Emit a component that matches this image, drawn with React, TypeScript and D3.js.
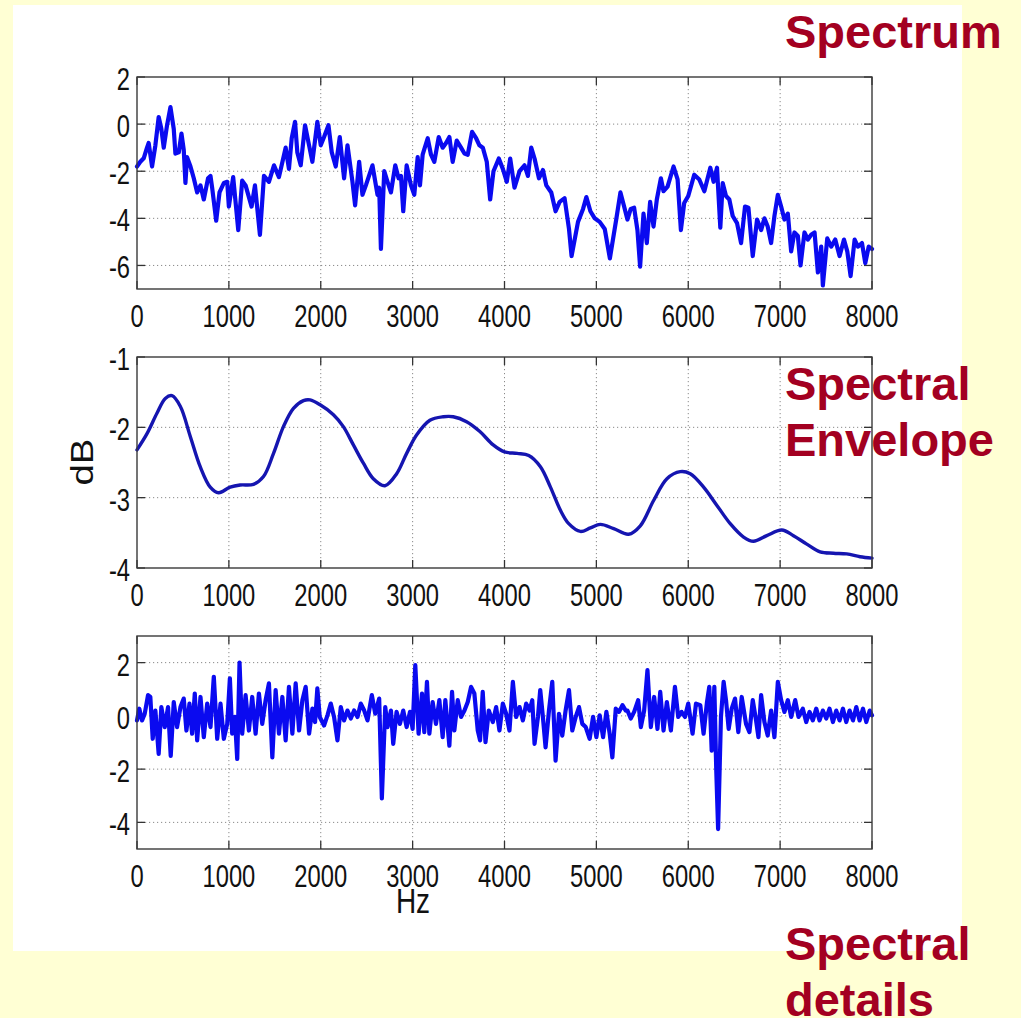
import * as d3 from 'd3';

// Spectrum (Hz, dB)
const spectrum: [number, number][] = [
  [0, -1.8], [36, -1.6], [73, -1.45], [109, -1.0], [127, -0.8], [164, -1.8], [200, -0.9], [236, 0.3],
  [265, -0.2], [291, -1.0], [327, -0.05], [364, 0.72], [400, -0.2], [418, -1.25], [455, -1.2], [484, -0.4],
  [509, -1.1], [527, -2.5], [545, -1.4], [582, -1.8], [618, -2.3], [655, -2.9], [691, -2.6], [727, -3.2],
  [773, -2.3], [800, -2.2], [818, -2.7], [862, -4.1], [898, -2.9], [945, -2.5], [982, -2.45], [1000, -3.5],
  [1047, -2.25], [1102, -4.5], [1145, -2.4], [1182, -2.6], [1247, -3.5], [1284, -2.6], [1338, -4.7], [1382, -2.2],
  [1436, -2.45], [1491, -1.75], [1545, -2.25], [1618, -1.0], [1654, -1.9], [1684, -0.6], [1720, 0.1], [1745, -1.2],
  [1782, -1.75], [1829, -0.05], [1873, -0.9], [1909, -1.6], [1963, 0.1], [2000, -0.9], [2036, -0.55], [2084, -0.05],
  [2120, -1.2], [2163, -1.8], [2207, -0.55], [2254, -2.3], [2291, -0.9], [2345, -2.45], [2374, -3.45], [2418, -1.6],
  [2454, -3.0], [2491, -2.6], [2563, -1.75], [2618, -3.0], [2636, -2.7], [2655, -5.3], [2691, -2.0], [2727, -2.45],
  [2764, -2.9], [2811, -1.75], [2847, -2.3], [2873, -2.2], [2898, -3.7], [2935, -1.75], [2982, -2.6], [3018, -3.0],
  [3055, -1.4], [3080, -2.6], [3109, -1.3], [3164, -0.6], [3200, -1.3], [3236, -1.6], [3284, -0.55], [3327, -1.0],
  [3364, -0.8], [3400, -0.55], [3436, -1.6], [3480, -0.7], [3527, -1.0], [3564, -1.25], [3600, -1.3], [3647, -0.33],
  [3691, -0.6], [3727, -0.9], [3764, -1.0], [3807, -1.6], [3844, -3.2], [3880, -2.0], [3938, -1.46], [3982, -1.9],
  [4025, -2.45], [4062, -1.46], [4109, -2.7], [4164, -2.0], [4218, -1.75], [4255, -2.2], [4291, -1.0], [4327, -1.46],
  [4375, -2.3], [4418, -1.95], [4455, -2.6], [4509, -2.9], [4556, -3.7], [4600, -3.3], [4654, -3.15], [4702, -4.45],
  [4730, -5.6], [4800, -4.15], [4855, -3.6], [4891, -3.1], [4935, -3.7], [4982, -4.0], [5036, -4.15], [5091, -4.45],
  [5147, -5.7], [5218, -4.0], [5262, -2.9], [5302, -3.5], [5338, -4.05], [5374, -3.6], [5411, -3.55], [5447, -4.5],
  [5476, -6.05], [5513, -3.8], [5549, -5.05], [5585, -3.3], [5622, -4.35], [5658, -3.2], [5702, -2.3], [5731, -2.85],
  [5775, -2.65], [5840, -1.8], [5884, -2.35], [5920, -4.5], [5956, -3.35], [6000, -3.05], [6065, -2.15], [6120, -2.35],
  [6175, -2.85], [6240, -1.85], [6276, -2.45], [6313, -1.85], [6349, -4.4], [6375, -2.5], [6411, -3.05], [6447, -3.2],
  [6484, -3.9], [6531, -4.2], [6575, -5.05], [6618, -3.5], [6655, -3.55], [6702, -5.6], [6749, -4.05], [6793, -4.5],
  [6829, -4.0], [6865, -4.35], [6902, -5.05], [6938, -3.9], [6975, -3.0], [7011, -3.5], [7047, -4.05], [7084, -3.8],
  [7120, -5.4], [7156, -4.6], [7193, -4.75], [7222, -6.0], [7265, -4.6], [7302, -4.9], [7338, -4.7], [7375, -4.6],
  [7411, -6.3], [7447, -5.2], [7465, -6.85], [7513, -4.85], [7556, -5.2], [7600, -4.9], [7647, -5.6], [7695, -4.9],
  [7731, -5.4], [7767, -6.45], [7811, -4.9], [7847, -5.2], [7891, -5.05], [7927, -5.9], [7964, -5.2], [8000, -5.3],
];

// Smooth spectral envelope (Hz, dB)
const envelope: [number, number][] = [
  [0, -2.32], [109, -2.09], [217, -1.8], [308, -1.59], [380, -1.55], [471, -1.7], [580, -2.13], [688, -2.56],
  [797, -2.85], [888, -2.93], [1014, -2.85], [1123, -2.82], [1268, -2.81], [1377, -2.7], [1486, -2.37], [1594, -1.99],
  [1703, -1.73], [1812, -1.62], [1884, -1.61], [1993, -1.68], [2138, -1.82], [2246, -1.99], [2355, -2.25], [2464, -2.51],
  [2572, -2.73], [2699, -2.83], [2826, -2.66], [2935, -2.37], [3043, -2.11], [3188, -1.9], [3333, -1.85], [3442, -1.85],
  [3587, -1.92], [3732, -2.06], [3877, -2.25], [4000, -2.35], [4138, -2.37], [4264, -2.4], [4391, -2.56], [4500, -2.85],
  [4609, -3.18], [4699, -3.37], [4826, -3.48], [4935, -3.43], [5043, -3.38], [5188, -3.44], [5351, -3.52], [5478, -3.4],
  [5623, -3.04], [5768, -2.73], [5913, -2.63], [6022, -2.66], [6167, -2.85], [6312, -3.11], [6457, -3.37], [6602, -3.56],
  [6710, -3.62], [6855, -3.54], [7018, -3.46], [7145, -3.54], [7290, -3.66], [7435, -3.77], [7580, -3.79], [7725, -3.8],
  [7870, -3.84], [8000, -3.86],
];

// Spectral details (Hz, dB)
const details: [number, number][] = [
  [0, -0.17], [25, 0.27], [55, -0.17], [84, 0.08], [120, 0.78], [145, 0.71], [171, -0.86], [200, 0.2],
  [236, -1.43], [265, 0.33], [302, -0.42], [338, 0.33], [367, -1.5], [400, 0.52], [436, -0.42], [473, 0.33],
  [509, 0.65], [538, -0.55], [571, 0.46], [600, -0.67], [629, 0.84], [655, -0.92], [691, 0.71], [727, -0.8],
  [764, 0.46], [800, -0.42], [836, 1.47], [873, -0.86], [909, 0.46], [945, -0.86], [982, -0.3], [1011, 1.41],
  [1036, -0.67], [1065, -0.04], [1091, -1.62], [1116, 2.0], [1145, -0.67], [1182, 0.78], [1218, -0.55], [1254, 0.71],
  [1291, -0.67], [1327, 0.84], [1363, -0.3], [1400, 0.59], [1436, 1.22], [1473, -1.56], [1509, 0.97], [1545, -0.67],
  [1582, 0.71], [1618, -0.92], [1654, 1.09], [1691, -0.67], [1727, 1.22], [1764, -0.55], [1800, 0.59], [1836, 1.09],
  [1873, -0.67], [1909, 0.27], [1938, -0.23], [1963, 1.03], [1989, -0.04], [2036, -0.36], [2073, 0.02], [2109, 0.46],
  [2145, -0.04], [2182, -0.92], [2218, 0.33], [2254, -0.17], [2291, 0.2], [2327, -0.1], [2363, 0.2], [2400, -0.04],
  [2436, 0.46], [2473, 0.2], [2509, -0.17], [2556, 0.78], [2593, 0.08], [2636, 0.65], [2665, -3.1], [2702, 0.33],
  [2727, -0.42], [2764, 0.2], [2789, -1.05], [2825, 0.15], [2862, -0.3], [2898, 0.2], [2935, -0.42], [2971, 0.15],
  [3000, -0.49], [3029, 1.91], [3065, -0.67], [3102, 0.84], [3127, -0.61], [3156, 1.28], [3182, -0.67], [3218, 0.52],
  [3254, -0.3], [3291, 0.59], [3327, -0.8], [3356, 0.59], [3400, -1.12], [3429, 0.9], [3454, -0.55], [3491, 0.59],
  [3527, -0.04], [3564, 0.2], [3600, 0.52], [3636, 1.09], [3672, 0.84], [3709, -0.55], [3734, -0.92], [3763, 0.9],
  [3793, -0.99], [3829, 0.2], [3873, -0.23], [3909, 0.33], [3945, -0.55], [3982, 0.46], [4018, 0.08], [4054, -0.55],
  [4091, 1.28], [4127, -0.04], [4164, 0.33], [4200, -0.17], [4236, 0.46], [4273, 0.2], [4302, 0.59], [4327, -1.05],
  [4364, -0.04], [4389, 0.97], [4418, -0.04], [4447, -1.18], [4484, 0.2], [4520, 1.28], [4556, -1.68], [4593, 0.08],
  [4629, -0.74], [4665, 0.2], [4702, 0.97], [4738, -0.55], [4775, -0.04], [4811, 0.33], [4847, -0.3], [4884, -0.42],
  [4927, -0.86], [4964, -0.04], [5000, -0.8], [5036, 0.02], [5073, -0.8], [5109, 0.15], [5145, -0.67], [5174, -1.56],
  [5211, 0.27], [5247, 0.15], [5284, 0.4], [5320, 0.2], [5338, 0.2], [5374, -0.1], [5411, 0.15], [5455, 0.59],
  [5484, -0.42], [5520, 0.2], [5556, 1.72], [5593, -0.42], [5629, 0.71], [5665, -0.49], [5695, 0.9], [5731, -0.55],
  [5767, 0.52], [5811, -0.55], [5855, 1.09], [5891, -0.04], [5927, 0.15], [5964, -0.04], [6000, 0.46], [6047, -0.67],
  [6084, 0.46], [6131, 0.4], [6167, -0.67], [6204, 0.52], [6229, 1.09], [6255, -1.31], [6284, 1.09], [6305, -2.06],
  [6325, -4.25], [6356, -0.04], [6385, 1.28], [6411, 0.59], [6440, -0.49], [6473, 0.27], [6509, 0.65], [6545, -0.61],
  [6582, 0.71], [6629, -0.3], [6666, -0.61], [6702, 0.59], [6738, -0.17], [6764, -0.8], [6793, 0.78], [6829, -0.23],
  [6865, -0.74], [6902, 0.2], [6938, -0.8], [6975, 1.28], [7011, 0.59], [7047, 0.15], [7084, 0.59], [7120, -0.04],
  [7164, 0.59], [7200, -0.04], [7247, 0.27], [7284, -0.23], [7320, 0.15], [7356, -0.17], [7393, 0.27], [7429, -0.17],
  [7465, 0.2], [7502, -0.1], [7538, 0.27], [7575, -0.23], [7611, 0.2], [7647, -0.17], [7684, 0.27], [7720, -0.23],
  [7756, 0.2], [7793, -0.17], [7829, 0.33], [7865, -0.17], [7902, 0.27], [7938, -0.23], [7975, 0.2], [8000, 0.02],
];

const freqTicks = [0, 1000, 2000, 3000, 4000, 5000, 6000, 7000, 8000];
const spectrumTicks = [2, 0, -2, -4, -6];
const envelopeTicks = [-1, -2, -3, -4];
const detailTicks = [2, 0, -2, -4];

const W = 1021;
const H = 1018;
const LEFT = 137;
const RIGHT = 872;
const FONT = 'Arial, "Liberation Sans", Helvetica, sans-serif';
const RED = '#a30021';

const x = d3.scaleLinear().domain([0, 8000]).range([LEFT, RIGHT]);

interface PanelProps {
  data: [number, number][];
  yDomain: [number, number];
  yTicks: number[];
  top: number;
  bottom: number;
  color: string;
  lineWidth: number;
  smooth?: boolean;
}

function Panel({ data, yDomain, yTicks, top, bottom, color, lineWidth, smooth }: PanelProps) {
  const y = d3.scaleLinear().domain(yDomain).range([bottom, top]);
  const line = d3.line<[number, number]>()
    .x(d => x(d[0]))
    .y(d => y(d[1]))
    .curve(smooth ? d3.curveCatmullRom : d3.curveLinear);
  const tickLen = 8;

  return (
    <g>
      <rect x={LEFT} y={top} width={RIGHT - LEFT} height={bottom - top} fill="#fff" />
      {/* dotted grid */}
      {freqTicks.slice(1, -1).map(t => (
        <line key={'gx' + t} x1={x(t)} x2={x(t)} y1={top} y2={bottom}
          stroke="#8a8a8a" strokeWidth={1} strokeDasharray="1.2 2.8" />
      ))}
      {yTicks.filter(t => t !== yDomain[0] && t !== yDomain[1]).map(t => (
        <line key={'gy' + t} x1={LEFT} x2={RIGHT} y1={y(t)} y2={y(t)}
          stroke="#8a8a8a" strokeWidth={1} strokeDasharray="1.2 2.8" />
      ))}
      {/* inward ticks on all four sides */}
      {freqTicks.map(t => (
        <g key={'tx' + t}>
          <line x1={x(t)} x2={x(t)} y1={bottom} y2={bottom - tickLen} stroke="#333" strokeWidth={1.3} />
          <line x1={x(t)} x2={x(t)} y1={top} y2={top + tickLen} stroke="#333" strokeWidth={1.3} />
        </g>
      ))}
      {yTicks.map(t => (
        <g key={'ty' + t}>
          <line x1={LEFT} x2={LEFT + tickLen} y1={y(t)} y2={y(t)} stroke="#333" strokeWidth={1.3} />
          <line x1={RIGHT} x2={RIGHT - tickLen} y1={y(t)} y2={y(t)} stroke="#333" strokeWidth={1.3} />
        </g>
      ))}
      <path d={line(data) ?? ''} fill="none" stroke={color} strokeWidth={lineWidth}
        strokeLinejoin="round" strokeLinecap="round" />
      <rect x={LEFT} y={top} width={RIGHT - LEFT} height={bottom - top}
        fill="none" stroke="#3a3a3a" strokeWidth={1.4} />
      {/* tick labels */}
      {freqTicks.map(t => (
        <text key={'lx' + t} transform={`translate(${x(t)},${bottom + 38}) scale(0.95,1.22)`}
          textAnchor="middle" fontFamily={FONT} fontSize={25} fill="#111">{t}</text>
      ))}
      {yTicks.map(t => (
        <text key={'ly' + t} transform={`translate(${LEFT - 7},${y(t) + 2}) scale(0.95,1.22)`}
          textAnchor="end" dy="0.36em" fontFamily={FONT} fontSize={25} fill="#111">{t}</text>
      ))}
    </g>
  );
}

function Title({ lines, x0, y0 }: { lines: string[]; x0: number; y0: number }) {
  return (
    <text fontFamily={FONT} fontWeight="bold" fontSize={47} fill={RED}>
      {lines.map((s, i) => (
        <tspan key={s} x={x0} y={y0 + i * 56}>{s}</tspan>
      ))}
    </text>
  );
}

export default function App() {
  return (
    <svg width={W} height={H} style={{ position: 'absolute', left: 0, top: 0, display: 'block' }}>
      <rect x={0} y={0} width={W} height={H} fill="#ffffd4" />
      <rect x={13} y={5} width={949} height={946} fill="#fff" />

      <Panel data={spectrum} yDomain={[-7, 2]} yTicks={spectrumTicks} top={77} bottom={289}
        color="#0a0af0" lineWidth={4.2} />
      <Panel data={envelope} yDomain={[-4, -1]} yTicks={envelopeTicks} top={357} bottom={568}
        color="#1515b0" lineWidth={3.4} smooth />
      <Panel data={details} yDomain={[-5, 3]} yTicks={detailTicks} top={636} bottom={849}
        color="#0a0af0" lineWidth={4.2} />

      <text transform="translate(93,462) rotate(-90) scale(1.2,1)" textAnchor="middle"
        fontFamily={FONT} fontSize={32} fill="#111">dB</text>
      <text transform="translate(413,913) scale(1,1.25)" textAnchor="middle"
        fontFamily={FONT} fontSize={28} fill="#111">Hz</text>

      <Title lines={['Spectrum']} x0={785} y0={48} />
      <Title lines={['Spectral', 'Envelope']} x0={785} y0={400} />
      <Title lines={['Spectral', 'details']} x0={785} y0={960} />
    </svg>
  );
}
